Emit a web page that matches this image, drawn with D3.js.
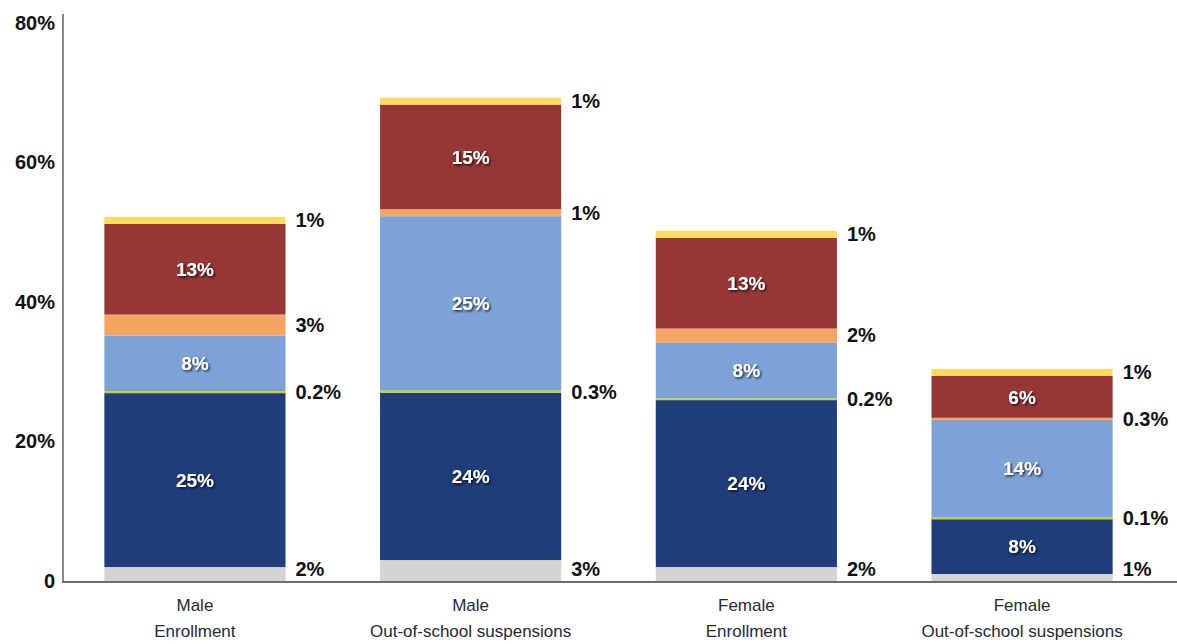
<!DOCTYPE html>
<html>
<head>
<meta charset="utf-8">
<script src="https://cdn.jsdelivr.net/npm/d3@7"></script>
<style>
  html, body { margin: 0; padding: 0; background: #fff; }
  svg { display: block; }
</style>
</head>
<body>
<svg id="chart" width="1177" height="644"></svg>
<script>
// Share of students by race/ethnicity group, stacked per category (percent)
const categories = [
  ["Male", "Enrollment"],
  ["Male", "Out-of-school suspensions"],
  ["Female", "Enrollment"],
  ["Female", "Out-of-school suspensions"]
];
const seriesNames = ["Gray", "DarkBlue", "Line", "LightBlue", "Orange", "Red", "Yellow"];
const gray      = [2, 3, 2, 1];
const darkBlue  = [25, 24, 24, 8];
const thinLine  = [0.2, 0.3, 0.2, 0.1];
const lightBlue = [8, 25, 8, 14];
const orange    = [3, 1, 2, 0.3];
const red       = [13, 15, 13, 6];
const yellow    = [1, 1, 1, 1];
const yTicks = [0, 20, 40, 60, 80];

const seriesValues = [gray, darkBlue, thinLine, lightBlue, orange, red, yellow];
const colors = ["#d4d4d4", "#1f3d7a", "#c9d31c", "#7da3d6", "#f6a462", "#953735", "#ffdb5e"];
// segments labelled inside the bar (white) vs. to the right (black)
const insideLabel = [false, true, false, true, false, true, false];

const svg = d3.select("#chart");

const defs = svg.append("defs");
const f = defs.append("filter").attr("id", "shadow").attr("x", "-20%").attr("y", "-30%").attr("width", "150%").attr("height", "170%");
f.append("feDropShadow").attr("dx", 1.5).attr("dy", 1.5).attr("stdDeviation", 1.2)
  .attr("flood-color", "#000").attr("flood-opacity", 0.75);

const y = d3.scaleLinear().domain([0, 80]).range([581, 23]);
const x = d3.scaleBand().domain(d3.range(categories.length))
  .range([63, 1154]).paddingInner(0.343).paddingOuter(0.15);

const rows = categories.map((c, i) => {
  const r = { i };
  seriesNames.forEach((s, k) => r[s] = seriesValues[k][i]);
  return r;
});
const stacked = d3.stack().keys(seriesNames)(rows);

// bars
stacked.forEach((layer, k) => {
  svg.append("g").selectAll("rect").data(layer).join("rect")
    .attr("x", d => x(d.data.i))
    .attr("width", x.bandwidth())
    .attr("y", d => y(d[1]))
    .attr("height", d => Math.max(y(d[0]) - y(d[1]), k === 2 ? 2 : 0))
    .attr("fill", colors[k]);
});

const fmt = v => v + "%";

// value labels
stacked.forEach((layer, k) => {
  const g = svg.append("g");
  const key = seriesNames[k];
  layer.forEach(d => {
    const v = d.data[key];
    let cy = (y(d[0]) + y(d[1])) / 2;
    if (insideLabel[k]) {
      g.append("text")
        .attr("x", x(d.data.i) + x.bandwidth() / 2)
        .attr("y", cy)
        .attr("dy", "0.35em")
        .attr("text-anchor", "middle")
        .attr("fill", "#fff")
        .attr("filter", "url(#shadow)")
        .style("font", "bold 19px 'Liberation Sans', Arial, sans-serif")
        .text(fmt(v));
    } else {
      if (k === 0) cy = y(0) - 12;
      g.append("text")
        .attr("x", x(d.data.i) + x.bandwidth() + 10)
        .attr("y", cy)
        .attr("dy", "0.35em")
        .attr("fill", "#111")
        .style("font", "bold 20px 'Liberation Sans', Arial, sans-serif")
        .text(fmt(v));
    }
  });
});

// y axis
const yAxis = d3.axisLeft(y).tickValues(yTicks).tickSize(0).tickPadding(8)
  .tickFormat(d => d === 0 ? "0" : d + "%");
const yg = svg.append("g").attr("transform", "translate(63,0)").call(yAxis);
yg.select(".domain").remove();
yg.selectAll("text").attr("fill", "#111")
  .style("font", "bold 20px 'Liberation Sans', Arial, sans-serif");

svg.append("line").attr("x1", 63).attr("x2", 63).attr("y1", 14).attr("y2", 582)
  .attr("stroke", "#8a8a8a").attr("stroke-width", 2);
svg.append("line").attr("x1", 62).attr("x2", 1177).attr("y1", y(0) + 1).attr("y2", y(0) + 1)
  .attr("stroke", "#6e6e6e").attr("stroke-width", 2);

// category labels
const cg = svg.append("g");
categories.forEach((lines, i) => {
  const t = cg.append("text")
    .attr("x", x(i) + x.bandwidth() / 2)
    .attr("y", 611)
    .attr("text-anchor", "middle")
    .attr("fill", "#262a36")
    .style("font", "17px 'Liberation Sans Narrow', 'Liberation Sans', Arial, sans-serif");
  lines.forEach((ln, j) => {
    t.append("tspan").attr("x", x(i) + x.bandwidth() / 2).attr("dy", j === 0 ? 0 : 26).text(ln);
  });
});
</script>
</body>
</html>
